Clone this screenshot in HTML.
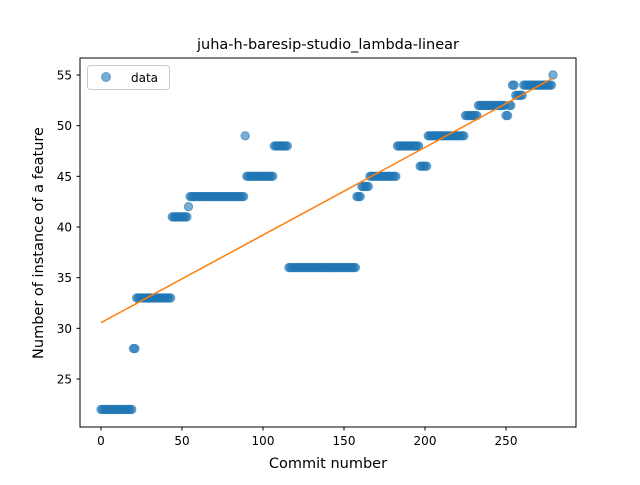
<!DOCTYPE html>
<html><head><meta charset="utf-8"><style>
body{margin:0;background:#fff;}
text{font-family:"DejaVu Sans","Liberation Sans",sans-serif;}
</style></head><body>
<svg id="chart" width="640" height="480" xmlns="http://www.w3.org/2000/svg">
<rect width="640" height="480" fill="#fff"/>
<text x="328" y="49" font-size="14.5" text-anchor="middle">juha-h-baresip-studio_lambda-linear</text>
<g id="marks"></g>
<rect x="80" y="58" width="496" height="369" fill="none" stroke="#000" stroke-width="1"/>
<g id="xticks"></g>
<g id="yticks"></g>
<text x="328" y="468" font-size="14.5" text-anchor="middle">Commit number</text>
<text transform="translate(43,243) rotate(-90)" font-size="14.5" text-anchor="middle">Number of instance of a feature</text>
<g>
<rect x="87.5" y="65.5" width="82" height="24" rx="3" fill="#fff" fill-opacity="0.8" stroke="#ccc"/>
<circle cx="106" cy="77" r="4.5" fill="#1f77b4" fill-opacity="0.6" stroke="#1f77b4" stroke-opacity="0.6"/>
<text x="131" y="82" font-size="12">data</text>
</g>
</svg>
<script>
const runStart=[0,20,22,44,54,55,89,90,107,116,158,161,166,183,197,202,225,233,250,252,254,256,261,279];
const runEnd  =[19,21,43,53,54,88,89,106,115,157,160,165,182,196,201,224,232,249,251,253,255,260,278,279];
const runValue=[22,28,33,41,42,43,49,45,48,36,43,44,45,48,46,49,51,52,51,52,54,53,54,55];
const xTicks=[0,50,100,150,200,250];
const yTicks=[25,30,35,40,45,50,55];
const NS="http://www.w3.org/2000/svg";
function xs(v){return 101+v*(506-101)/250;}
function ys(v){return 379-(v-25)*(379-75)/30;}
const xsArr=[],ysArr=[];
for(let r=0;r<runStart.length;r++){for(let i=runStart[r];i<=runEnd[r];i++){xsArr.push(i);ysArr.push(runValue[r]);}}
const marks=document.getElementById('marks');
for(let k=0;k<xsArr.length;k++){
 const c=document.createElementNS(NS,'circle');
 c.setAttribute('cx',xs(xsArr[k]));c.setAttribute('cy',ys(ysArr[k]));c.setAttribute('r',4.2);
 c.setAttribute('fill','#1f77b4');c.setAttribute('fill-opacity','0.6');
 c.setAttribute('stroke','#1f77b4');c.setAttribute('stroke-opacity','0.6');
 
 
 marks.appendChild(c);
}
const n=xsArr.length;let sx=0,sy=0,sxx=0,sxy=0;
for(let k=0;k<n;k++){sx+=xsArr[k];sy+=ysArr[k];sxx+=xsArr[k]*xsArr[k];sxy+=xsArr[k]*ysArr[k];}
const b=(n*sxy-sx*sy)/(n*sxx-sx*sx),a=(sy-b*sx)/n;
const x0=xsArr[0],x1=xsArr[n-1];
const ln=document.createElementNS(NS,'line');
ln.setAttribute('x1',xs(x0));ln.setAttribute('y1',ys(a+b*x0));ln.setAttribute('x2',xs(x1));ln.setAttribute('y2',ys(a+b*x1));
ln.setAttribute('stroke','#ff7f0e');ln.setAttribute('stroke-width','1.5');


marks.appendChild(ln);
const xt=document.getElementById('xticks');
xTicks.forEach(v=>{
 const l=document.createElementNS(NS,'line');
 l.setAttribute('x1',xs(v));l.setAttribute('x2',xs(v));l.setAttribute('y1',427);l.setAttribute('y2',430.5);l.setAttribute('stroke','#000');
 
 
 xt.appendChild(l);
 const t=document.createElementNS(NS,'text');
 t.setAttribute('x',xs(v));t.setAttribute('y',445);t.setAttribute('font-size','12');t.setAttribute('text-anchor','middle');t.textContent=v;
 
 
 xt.appendChild(t);
});
const yt=document.getElementById('yticks');
yTicks.forEach(v=>{
 const l=document.createElementNS(NS,'line');
 l.setAttribute('x1',76.5);l.setAttribute('x2',80);l.setAttribute('y1',ys(v));l.setAttribute('y2',ys(v));l.setAttribute('stroke','#000');
 
 
 yt.appendChild(l);
 const t=document.createElementNS(NS,'text');
 t.setAttribute('x',72);t.setAttribute('y',ys(v)+4.5);t.setAttribute('font-size','12');t.setAttribute('text-anchor','end');t.textContent=v;
 
 
 yt.appendChild(t);
});
</script>
</body></html>
